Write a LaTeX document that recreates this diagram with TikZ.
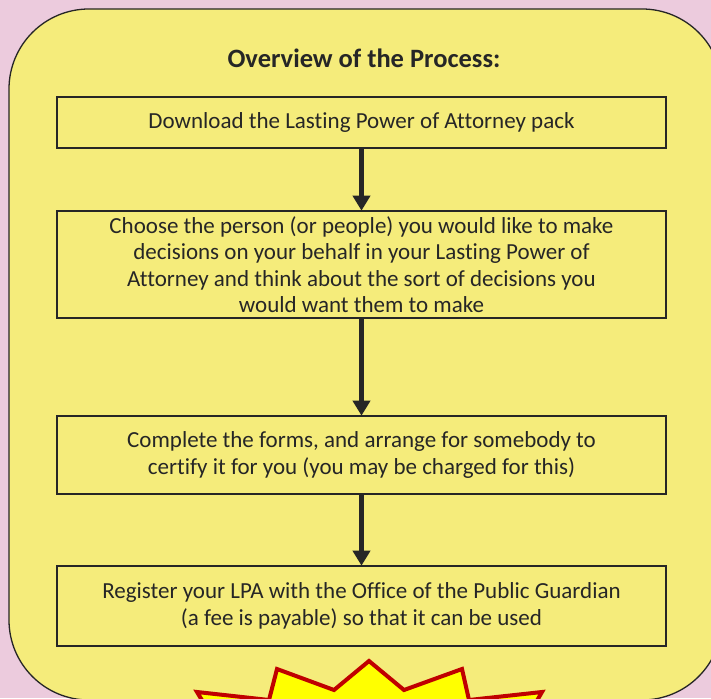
\documentclass[tikz,border=0pt]{standalone}
\usepackage{fontspec}
\setmainfont{Carlito}[Ligatures=NoCommon]
\usetikzlibrary{arrows.meta}
\definecolor{bgpink}{HTML}{ECCBDD}
\definecolor{panel}{HTML}{F5EC7B}
\definecolor{ink}{HTML}{262626}
\definecolor{burstred}{HTML}{C00000}
\definecolor{burstyellow}{HTML}{FFFF00}
\tikzset{
  stepbox/.style={draw=ink, line width=2.6pt, fill=panel, minimum width=609pt, inner sep=0pt, align=center, font=\fontsize{23}{26.5}\selectfont, text=ink},
  flowarrow/.style={draw=ink, line width=4.5pt, -{Triangle[width=17pt,length=15pt]}, shorten >=-1pt}
}
\begin{document}
\begin{tikzpicture}[x=1pt,y=-1pt]
\useasboundingbox (0,0) rectangle (711,698);
\fill[bgpink] (0,0) rectangle (711,698);
\draw[ink, line width=1.3pt, fill=panel, rounded corners=80pt] (9,9) rectangle (722,700);
\node[font=\fontsize{26.5}{30}\selectfont\bfseries, text=ink] (title) at (364,58) {Overview of the Process:};
\node[stepbox, minimum height=51pt] (s1) at (361.5,122.5) {Download the Lasting Power of Attorney pack};
\node[stepbox, minimum height=107pt] (s2) at (361.5,264.5) {Choose the person (or people) you would like to make\\decisions on your behalf in your Lasting Power of\\Attorney and think about the sort of decisions you\\would want them to make};
\node[stepbox, minimum height=78pt] (s3) at (361.5,455) {Complete the forms, and arrange for somebody to\\certify it for you (you may be charged for this)};
\node[stepbox, minimum height=80pt] (s4) at (361.5,606) {Register your LPA with the Office of the Public Guardian\\(a fee is payable) so that it can be used};
\draw[flowarrow] (s1.south) -- (s2.north);
\draw[flowarrow] (s2.south) -- (s3.north);
\draw[flowarrow] (s3.south) -- (s4.north);
\draw[burstred, line width=4pt, fill=burstyellow, line join=miter]
  (197,692) -- (269,700) -- (277,669) -- (334,690) -- (369,661) -- (404,690) -- (462,669) -- (469,700) -- (542,692) -- (520,730) -- (220,730) -- cycle;
\end{tikzpicture}
\end{document}
